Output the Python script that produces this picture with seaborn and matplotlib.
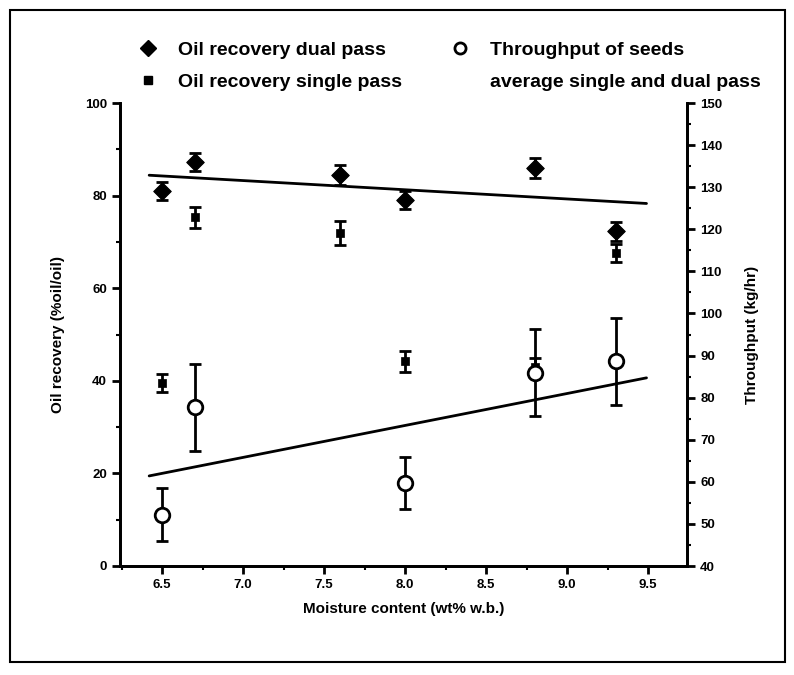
import matplotlib
matplotlib.use("Agg")
import matplotlib.pyplot as plt
from matplotlib.lines import Line2D
from matplotlib.patches import Rectangle
from matplotlib.ticker import MultipleLocator
import seaborn as sns
import pandas as pd

# ---- data ----
dual_x = [6.5, 6.7, 7.6, 8.0, 8.8, 9.3]
dual_y = [81.0, 87.3, 84.4, 79.1, 85.9, 72.3]
dual_err = [2.0, 2.0, 2.2, 2.0, 2.2, 2.0]

single_x = [6.5, 6.7, 7.6, 8.0, 8.8, 9.3]
single_y = [39.5, 75.3, 72.0, 44.2, 43.0, 67.6]
single_err = [2.0, 2.2, 2.6, 2.3, 2.0, 2.0]

thr_x = [6.5, 6.7, 8.0, 8.8, 9.3]
thr_y = [52.2, 77.7, 59.8, 85.9, 88.6]
thr_err = [6.3, 10.4, 6.2, 10.3, 10.4]

fit_x = [6.42, 9.49]
dual_fit_y = [84.4, 78.3]
thr_fit_y = [61.4, 84.7]

x_ticks = [6.5, 7.0, 7.5, 8.0, 8.5, 9.0, 9.5]
left_ticks = [0, 20, 40, 60, 80, 100]
right_ticks = list(range(40, 151, 10))

sns.set_theme(style="ticks")
plt.rcParams['font.family'] = ['Liberation Sans', 'DejaVu Sans']
plt.rcParams['font.weight'] = 'bold'
plt.rcParams['text.color'] = 'black'
plt.rcParams['axes.labelcolor'] = 'black'
plt.rcParams['xtick.color'] = 'black'
plt.rcParams['ytick.color'] = 'black'

fig = plt.figure(figsize=(7.94, 6.75), dpi=100)
ax = fig.add_axes([120/794, 1-566/675, (687-120)/794, (566-103)/675])
ax2 = ax.twinx()

dual_df = pd.DataFrame({"x": dual_x, "y": dual_y})
single_df = pd.DataFrame({"x": single_x, "y": single_y})
thr_df = pd.DataFrame({"x": thr_x, "y": thr_y})
fit_df = pd.DataFrame({"x": fit_x, "dual": dual_fit_y, "thr": thr_fit_y})

# regression lines
sns.lineplot(data=fit_df, x="x", y="dual", ax=ax, color="black", lw=2, legend=False)
sns.lineplot(data=fit_df, x="x", y="thr", ax=ax2, color="black", lw=2, legend=False)

# error bars
ax.errorbar(dual_x, dual_y, yerr=dual_err, fmt="none", ecolor="black",
            elinewidth=2, capsize=4, capthick=2)
ax.errorbar(single_x, single_y, yerr=single_err, fmt="none", ecolor="black",
            elinewidth=2, capsize=4, capthick=2)
ax2.errorbar(thr_x, thr_y, yerr=thr_err, fmt="none", ecolor="black",
             elinewidth=2, capsize=4, capthick=2)

# markers
sns.scatterplot(data=single_df, x="x", y="y", ax=ax, marker="s", s=40,
                color="black", edgecolor="black", zorder=4)
sns.scatterplot(data=dual_df, x="x", y="y", ax=ax, marker="D", s=80,
                color="black", edgecolor="black", zorder=4)
sns.scatterplot(data=thr_df, x="x", y="y", ax=ax2, marker="o", s=110,
                facecolor="white", edgecolor="black", linewidth=2, zorder=5)

ax.set_xlim(6.24, 9.74)
ax.set_ylim(0, 100)
ax2.set_ylim(40, 150)
ax.set_xticks(x_ticks)
ax.set_xticklabels([f"{v:.1f}" for v in x_ticks])
ax.xaxis.set_minor_locator(MultipleLocator(0.25))
ax.set_yticks(left_ticks)
ax.yaxis.set_minor_locator(MultipleLocator(10))
ax2.set_yticks(right_ticks)
ax2.yaxis.set_minor_locator(MultipleLocator(5))

for a in (ax, ax2):
    a.spines["top"].set_visible(False)
    for s in a.spines.values():
        s.set_linewidth(2)
        s.set_color("black")
    a.tick_params(which="major", length=6, width=2, colors="black", labelsize=9.5)
    a.tick_params(which="minor", length=3, width=1.5, colors="black")
    for lab in a.get_xticklabels() + a.get_yticklabels():
        lab.set_fontweight("bold")

ax.set_xlabel("Moisture content (wt% w.b.)", fontsize=11, fontweight="bold",
              labelpad=8, color="black")
ax.set_ylabel("Oil recovery (%oil/oil)", fontsize=11, fontweight="bold",
              labelpad=14, color="black")
ax2.set_ylabel("Throughput (kg/hr)", fontsize=11, fontweight="bold",
               labelpad=16, color="black")

# legend
h_dual = Line2D([], [], marker="D", color="black", ls="none", markersize=8)
h_single = Line2D([], [], marker="s", color="black", ls="none", markersize=6)
h_thr = Line2D([], [], marker="o", markerfacecolor="white", markeredgecolor="black",
               markeredgewidth=2, ls="none", markersize=8)
h_blank = Line2D([], [], ls="none", marker="")
leg = fig.legend([h_dual, h_single, h_thr, h_blank],
                 ["Oil recovery dual pass", "Oil recovery single pass",
                  "Throughput of seeds", "average single and dual pass"],
                 ncol=2, loc="upper left", bbox_to_anchor=(121/794, 1-24/675),
                 frameon=False, handlelength=1.0, handletextpad=1.05,
                 columnspacing=2.45, labelspacing=0.75,
                 prop={"family": "Liberation Sans", "weight": "bold", "size": 14})
for t in leg.get_texts():
    t.set_color("black")

# outer frame
fig.patches.append(Rectangle((10/794, 1-662/675), 775/794, 652/675,
                             transform=fig.transFigure, fill=False,
                             edgecolor="black", lw=1.5))

fig.savefig("out.png", dpi=100)
